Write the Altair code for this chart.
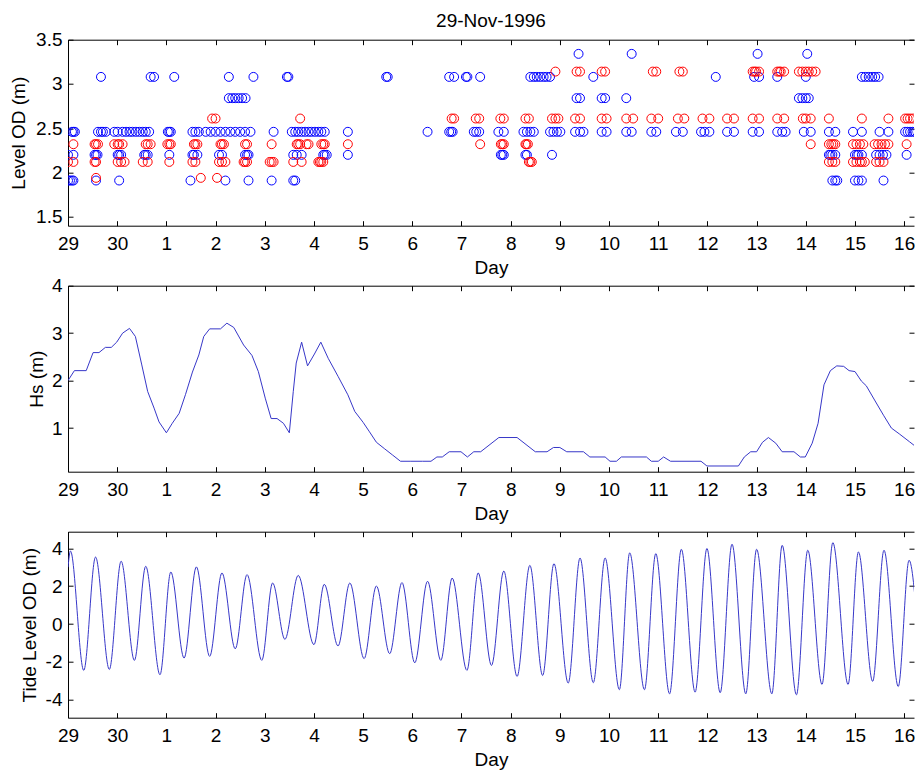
import json
import altair as alt
import pandas as pd

# ---------------- data (days counted from 29 Nov 1996, 00:00) ----------------
TITLE = "29-Nov-1996"
DAY_TICKS = [0, 1, 2, 3, 4, 5, 6, 7, 8, 9, 10, 11, 12, 13, 14, 15, 16, 17]
DAY_LABELS = ["29", "30", "1", "2", "3", "4", "5", "6", "7", "8", "9",
              "10", "11", "12", "13", "14", "15", "16"]

LEVEL_TICKS = [1.5, 2, 2.5, 3, 3.5]
HS_TICKS = [1, 2, 3, 4]
TIDE_TICKS = [-4, -2, 0, 2, 4]

# observed levels (blue) : level -> days
BLUE_LEVELS = {
    3.34: [10.38, 11.46, 14.02, 15.03],
    3.08: [0.67, 1.68, 1.75, 2.16, 3.27, 3.77, 4.45, 4.48, 6.47, 6.50, 7.75, 7.85,
           8.09, 8.12, 8.38, 9.40, 9.47, 9.53, 9.60, 9.67, 9.73, 9.80, 10.68,
           13.17, 13.95, 14.05, 14.42, 15.0, 16.14, 16.21, 16.28, 16.35, 16.41, 16.48],
    2.84: [3.27, 3.34, 3.40, 3.47, 3.54, 3.61, 10.34, 10.41, 10.85, 10.92, 11.35,
           14.86, 14.93, 15.0, 15.06],
    2.46: [0.08, 0.11, 0.14, 0.61, 0.67, 0.71, 0.77, 0.94, 1.01, 1.11, 1.18, 1.25,
           1.31, 1.38, 1.45, 1.52, 1.58, 1.65, 2.03, 2.06, 2.09, 2.53, 2.59, 2.66,
           2.80, 2.90, 3.0, 3.10, 3.20, 3.30, 3.40, 3.50, 3.60, 3.71, 4.18, 4.55,
           4.62, 4.68, 4.75, 4.82, 4.89, 4.95, 5.02, 5.09, 5.15, 5.22, 5.69, 7.31,
           7.75, 7.79, 7.82, 8.25, 8.30, 8.36, 8.75, 8.86, 9.26, 9.33, 9.40, 9.47,
           9.80, 9.87, 9.94, 10.01, 10.31, 10.41, 10.48, 10.85, 10.95, 11.35, 11.46,
           11.86, 11.96, 12.36, 12.50, 12.87, 12.94, 13.04, 13.40, 13.54, 13.92,
           14.05, 14.42, 14.52, 14.59, 14.96, 15.10, 15.47, 15.60, 15.96, 16.14,
           16.50, 16.68, 17.02, 17.07, 17.12, 17.17, 17.22],
    2.20: [0.0, 0.11, 0.54, 0.57, 0.60, 1.01, 1.04, 1.08, 1.55, 1.58, 1.62, 2.06,
           2.53, 2.56, 2.63, 3.07, 3.13, 3.60, 3.64, 3.67, 4.58, 4.65, 4.75, 5.19,
           5.22, 5.26, 5.69, 8.80, 8.83, 8.86, 9.30, 9.33, 9.84, 15.47, 15.50,
           15.54, 15.60, 16.0, 16.04, 16.07, 16.14, 16.43, 16.50, 16.57, 16.64, 17.05],
    1.91: [0.0, 0.04, 0.08, 0.11, 0.57, 1.04, 2.49, 3.20, 3.67, 4.14, 4.58, 4.62,
           15.54, 15.60, 15.64, 16.0, 16.07, 16.14, 16.58],
}

# predicted levels (red) : level -> days
RED_LEVELS = {
    3.14: [9.91, 10.34, 10.41, 10.85, 10.92, 11.89, 11.96, 12.43, 12.50, 13.92,
           13.96, 13.99, 14.05, 14.42, 14.46, 14.49, 14.56, 14.86, 14.93, 15.0,
           15.06, 15.13, 15.20],
    2.61: [2.93, 3.0, 4.72, 7.80, 7.85, 8.29, 8.36, 8.79, 8.86, 9.30, 9.37, 9.84,
           9.91, 9.97, 10.31, 10.41, 10.85, 10.95, 11.35, 11.49, 11.86, 12.0, 12.40,
           12.53, 12.90, 13.04, 13.40, 13.54, 13.92, 14.05, 14.42, 14.56, 14.94,
           15.0, 15.10, 15.47, 16.14, 16.68, 17.02, 17.07, 17.12, 17.18],
    2.32: [0.11, 0.54, 0.57, 0.61, 0.94, 1.01, 1.04, 1.11, 1.58, 1.62, 1.68, 2.02,
           2.06, 2.09, 2.56, 2.59, 2.63, 3.10, 3.13, 3.17, 3.60, 3.64, 4.14, 4.65,
           4.68, 4.72, 4.85, 4.89, 5.15, 5.19, 5.22, 5.69, 8.38, 8.80, 8.83, 8.86,
           9.30, 9.32, 9.35, 15.10, 15.47, 15.52, 15.56, 15.60, 15.96, 16.03, 16.10,
           16.17, 16.40, 16.47, 16.54, 16.61, 16.68, 17.05],
    2.12: [0.0, 0.11, 0.54, 0.57, 1.01, 1.08, 1.15, 1.52, 1.62, 2.06, 2.53, 2.59,
           3.07, 3.13, 3.20, 3.57, 3.60, 3.64, 4.10, 4.14, 4.18, 4.58, 4.75, 5.09,
           5.12, 5.15, 5.19, 9.37, 9.40, 9.43, 15.47, 15.54, 15.60, 15.96, 16.03,
           16.10, 16.14, 16.20, 16.43, 16.50, 16.58],
    1.94: [0.57, 2.70, 3.03],
}

# significant wave height
HS_DAY = [0.0, 0.13, 0.37, 0.51, 0.63, 0.76, 0.88, 0.99, 1.11, 1.25, 1.37, 1.50,
          1.62, 1.75, 1.85, 2.0, 2.12, 2.26, 2.39, 2.53, 2.66, 2.76, 2.88, 3.10,
          3.23, 3.37, 3.57, 3.74, 3.87, 4.01, 4.13, 4.25, 4.38, 4.50, 4.58, 4.64,
          4.75, 4.87, 5.01, 5.14, 5.29, 5.49, 5.69, 5.83, 6.0, 6.13, 6.27, 6.44,
          6.60, 6.76, 6.97, 7.21, 7.38, 7.50, 7.61, 7.75, 7.99, 8.12, 8.25, 8.39,
          8.76, 9.13, 9.50, 9.74, 9.87, 10.0, 10.14, 10.48, 10.61, 10.92, 11.02,
          11.15, 11.25, 11.76, 11.86, 12.0, 12.11, 12.25, 12.87, 12.99, 13.63,
          13.75, 13.88, 14.0, 14.12, 14.24, 14.39, 14.52, 14.76, 14.89, 14.99,
          15.13, 15.25, 15.37, 15.50, 15.63, 15.77, 15.88, 16.0, 16.13, 16.23,
          16.41, 16.58, 16.74, 16.91, 17.11, 17.27]
HS_VAL = [2.0, 2.21, 2.21, 2.59, 2.59, 2.70, 2.70, 2.81, 3.0, 3.10, 2.93, 2.33,
          1.77, 1.42, 1.13, 0.9, 1.10, 1.31, 1.71, 2.18, 2.54, 2.93, 3.09, 3.09,
          3.21, 3.12, 2.75, 2.53, 2.19, 1.63, 1.20, 1.20, 1.10, 0.90, 1.77, 2.37,
          2.81, 2.31, 2.56, 2.81, 2.47, 2.09, 1.70, 1.35, 1.12, 0.92, 0.70, 0.56,
          0.43, 0.30, 0.30, 0.30, 0.30, 0.39, 0.39, 0.50, 0.50, 0.39, 0.50, 0.50,
          0.80, 0.80, 0.50, 0.50, 0.59, 0.59, 0.50, 0.50, 0.39, 0.39, 0.30,
          0.30, 0.39, 0.39, 0.30, 0.30, 0.39, 0.30, 0.30, 0.20, 0.20,
          0.39, 0.50, 0.50, 0.70, 0.80, 0.68, 0.50, 0.50, 0.39, 0.39,
          0.68, 1.10, 1.91, 2.21, 2.31, 2.30, 2.21, 2.19, 1.99, 1.89,
          1.57, 1.27, 1.00, 0.87, 0.71, 0.58]

# tide level: high and low waters
TIDE_DAY = [0.0, 0.05, 0.32, 0.56, 0.84, 1.08, 1.35, 1.58, 1.87, 2.09, 2.36, 2.61,
            2.88, 3.13, 3.40, 3.64, 3.94, 4.16, 4.41, 4.68, 5.0, 5.21, 5.49, 5.73,
            6.02, 6.27, 6.54, 6.79, 7.05, 7.31, 7.58, 7.81, 8.11, 8.34, 8.61, 8.86,
            9.13, 9.39, 9.65, 9.88, 10.17, 10.41, 10.68, 10.92, 11.21, 11.42, 11.72,
            11.95, 12.23, 12.47, 12.75, 12.99, 13.26, 13.50, 13.78, 14.0, 14.31,
            14.52, 14.81, 15.04, 15.33, 15.55, 15.86, 16.07, 16.36, 16.59, 16.88,
            17.10, 17.28]
TIDE_VAL = [3.0, 3.86, -2.45, 3.54, -2.40, 3.32, -1.92, 3.05, -2.68, 2.75, -1.80,
            3.02, -1.71, 2.70, -1.31, 2.61, -1.92, 2.17, -0.81, 2.57, -1.09, 2.10,
            -1.16, 2.17, -1.83, 2.01, -1.57, 2.19, -2.05, 2.26, -1.92, 2.43, -2.45,
            2.70, -2.19, 2.80, -2.77, 3.10, -2.72, 3.19, -3.12, 3.49, -3.10, 3.49,
            -3.47, 3.76, -3.47, 3.72, -3.69, 3.95, -3.60, 3.99, -3.63, 4.22, -3.69,
            3.95, -3.69, 4.16, -3.74, 3.90, -3.19, 4.30, -3.19, 3.81, -3.03, 3.90,
            -3.30, 3.37, -0.42]

# ---------------- tables ----------------
rows = []
for series, levels in (("blue", BLUE_LEVELS), ("red", RED_LEVELS)):
    for lvl, days in levels.items():
        for d in days:
            rows.append({"day": d, "level": lvl, "series": series})
lev_df = pd.DataFrame(rows)
hs_df = pd.DataFrame({"day": HS_DAY, "hs": HS_VAL})
tide_df = pd.DataFrame({"day": TIDE_DAY, "tide": TIDE_VAL})

# ---------------- styling ----------------
FONT = "Liberation Sans"
FS = 19
W = 846
H = 186
LINE_COLOR = "#3636c8"
X_DOMAIN = [0, 17.2]
DAY_EXPR = json.dumps(DAY_LABELS) + "[datum.value]"
NUM_EXPR = "'' + datum.value"


def ax(**kw):
    base = dict(grid=False, domain=False, tickColor="black", tickSize=5, tickWidth=1,
                offset=-5, labelFont=FONT, labelFontSize=FS, labelColor="black",
                titleFont=FONT, titleFontSize=FS, titleFontWeight="normal",
                titleColor="black", labelFlush=False, labelOverlap=False)
    base.update(kw)
    return alt.Axis(**base)


def frame_ax(orient):
    return alt.Axis(orient=orient, offset=0, grid=False, domain=True, domainColor="black",
                    domainWidth=1, ticks=False, labels=False, title=None)


def panel(main_mark, df, yfield, ydomain, yticks, ytitle, title_x, day_y=53, color=None):
    xs = alt.Scale(domain=X_DOMAIN, nice=False, zero=False)
    ys = alt.Scale(domain=ydomain, nice=False, zero=False)
    enc = dict(
        x=alt.X("day:Q", scale=xs,
                axis=ax(orient="bottom", values=DAY_TICKS, labelExpr=DAY_EXPR,
                        labelPadding=9, title="Day", titleY=day_y,
                        titleBaseline="alphabetic")),
        y=alt.Y(f"{yfield}:Q", scale=ys,
                axis=ax(orient="left", values=yticks, labelExpr=NUM_EXPR,
                        labelPadding=6, title=ytitle, titleX=title_x,
                        titleBaseline="middle")),
    )
    if color is not None:
        enc["color"] = color
    main = main_mark.encode(**enc)
    # inward ticks on the top and right edges
    ticks_tr = alt.Chart(df).mark_point(opacity=0, clip=True).encode(
        x=alt.X("day:Q", scale=xs,
                axis=ax(orient="top", values=DAY_TICKS, labels=False, title=None)),
        y=alt.Y(f"{yfield}:Q", scale=ys,
                axis=ax(orient="right", values=yticks, labels=False, title=None)),
    )
    # box lines (left, bottom, top); the right edge lies beyond the picture
    box_lb = alt.Chart(df).mark_point(opacity=0, clip=True).encode(
        x=alt.X("day:Q", scale=xs, axis=frame_ax("bottom")),
        y=alt.Y(f"{yfield}:Q", scale=ys, axis=frame_ax("left")),
    )
    box_t = alt.Chart(df).mark_point(opacity=0, clip=True).encode(
        x=alt.X("day:Q", scale=xs, axis=frame_ax("top")),
        y=alt.Y(f"{yfield}:Q", scale=ys, axis=None),
    )
    return alt.layer(main, ticks_tr, box_lb, box_t).resolve_axis(
        x="independent", y="independent").properties(width=W, height=H)


color = alt.Color("series:N", scale=alt.Scale(domain=["blue", "red"],
                                               range=["#0000ff", "#ff0000"]), legend=None)

p1 = panel(alt.Chart(lev_df).mark_point(shape="circle", filled=False, size=80,
                                        strokeWidth=1, opacity=1, clip=True),
           lev_df, "level", [1.4, 3.5], LEVEL_TICKS, "Level OD (m)", -54.6, color=color)
p1 = p1.properties(title=alt.TitleParams(TITLE, font=FONT, fontSize=FS, fontWeight="normal",
                                         color="black", anchor="middle", baseline="alphabetic",
                                         offset=-15))

p2 = panel(alt.Chart(hs_df).mark_line(color=LINE_COLOR, strokeWidth=1, clip=True),
           hs_df, "hs", [0.08, 4], HS_TICKS, "Hs (m)", -36.8)

p3 = panel(alt.Chart(tide_df).mark_line(color=LINE_COLOR, strokeWidth=1, clip=True,
                                        interpolate="monotone"),
           tide_df, "tide", [-4.95, 4.88], TIDE_TICKS, "Tide Level OD (m)", -43.8)

chart = alt.vconcat(p1, p2, p3, spacing=60, bounds="flush").configure_view(
    strokeWidth=0).properties(
    padding={"left": 1, "top": 3.7, "right": 0, "bottom": 0}, background="white")

chart.save("out.html", embed_options={"renderer": "svg", "actions": False})
